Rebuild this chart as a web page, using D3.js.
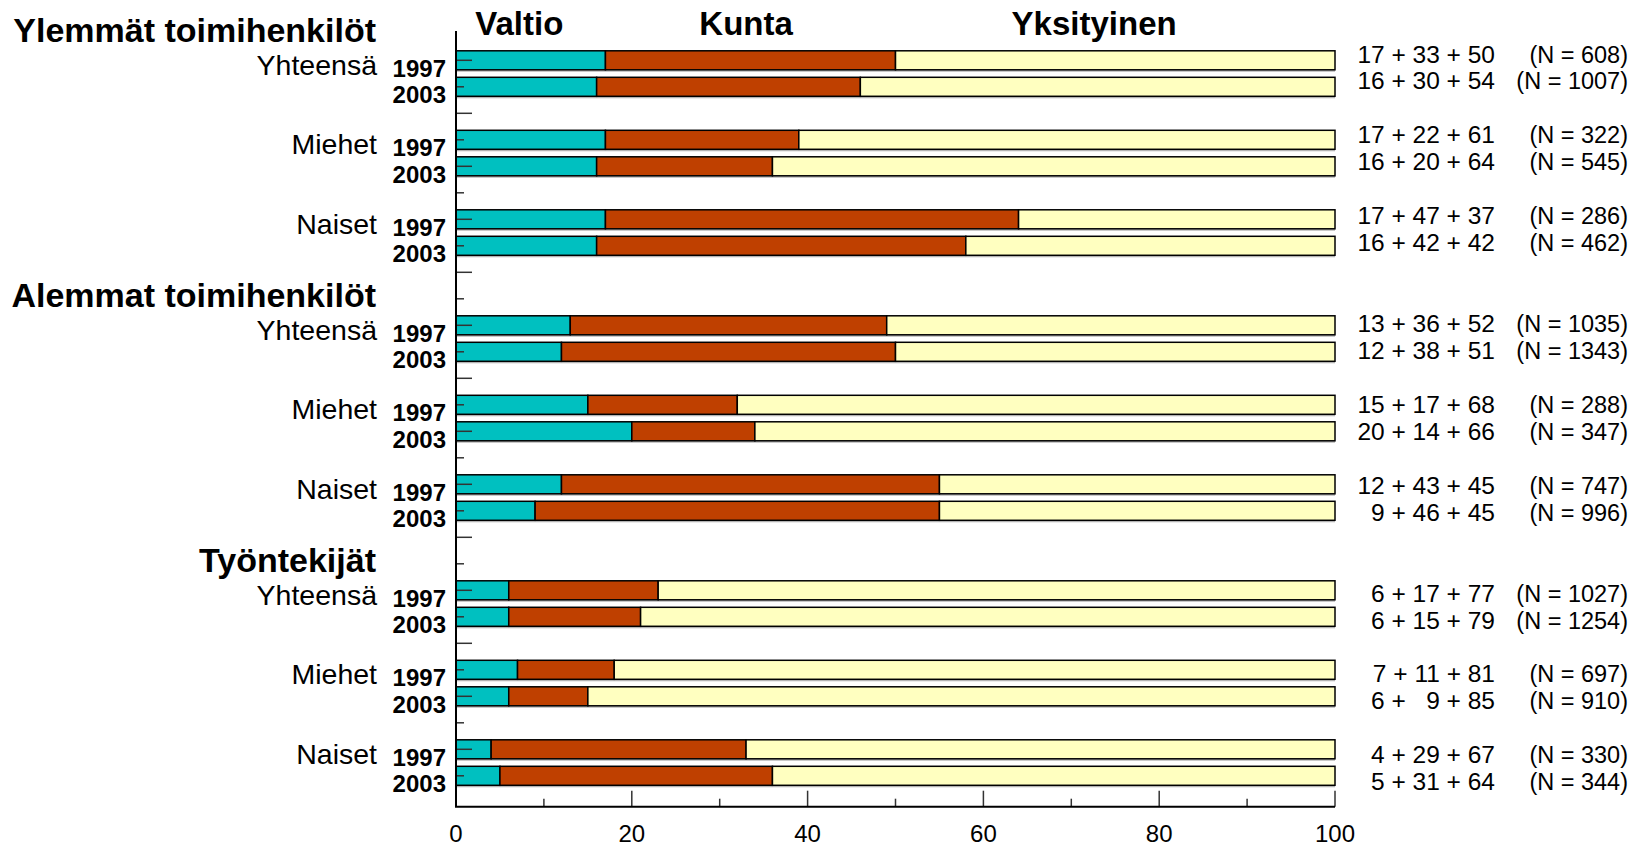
<!DOCTYPE html>
<html>
<head>
<meta charset="utf-8">
<script src="https://cdn.jsdelivr.net/npm/d3@7"></script>
<style>
  body { margin: 0; background: #fff; }
  svg { display: block; font-family: "Liberation Sans", Arial, sans-serif; }
</style>
</head>
<body>
<div id="chart"></div>
<script>

// data
var groups = ["Ylemmät toimihenkilöt", "Alemmat toimihenkilöt", "Työntekijät"]
var subgroups = ["Yhteensä", "Miehet", "Naiset"]
var years = ["1997", "2003"]
var sectors = ["Valtio", "Kunta", "Yksityinen"]

var valtio = [17, 16, 17, 16, 17, 16, 13, 12, 15, 20, 12, 9, 6, 6, 7, 6, 4, 5]
var kunta = [33, 30, 22, 20, 47, 42, 36, 38, 17, 14, 43, 46, 17, 15, 11, 9, 29, 31]
var yksityinen = [50, 54, 61, 64, 37, 42, 52, 51, 68, 66, 45, 45, 77, 79, 81, 85, 67, 64]
var nCounts = [608, 1007, 322, 545, 286, 462, 1035, 1343, 288, 347, 747, 996, 1027, 1254, 697, 910, 330, 344]
var xTicks = [0, 20, 40, 60, 80, 100]

var colors = ["#00c0c0", "#bf4000", "#ffffc0"]

var width = 1639, height = 847

var svg = d3.select("#chart").append("svg")
  .attr("width", width)
  .attr("height", height)

// row -> slot (two bars, one empty slot per subgroup, extra slot per group)
var rows = valtio.map(function (v, i) {
  var g = Math.floor(i / 6), s = Math.floor((i % 6) / 2), k = i % 2
  return { g: g, s: s, k: k, slot: 10 * g + 3 * s + k, v: v, ku: kunta[i], y: yksityinen[i], n: nCounts[i] }
})

var x = d3.scaleLinear().domain([0, 100]).range([456, 1335])
var y = d3.scaleLinear().domain([0, 27]).range([60.3, 775.8])
var yRight = d3.scaleLinear().domain([0, 27]).range([62.5, 790.3])
var axisBottom = 806.7
var barH = 19

// bars
var bar = svg.append("g").selectAll("g")
  .data(rows)
  .enter().append("g")

bar.append("rect")
  .attr("x", x(0))
  .attr("y", function (d) { return y(d.slot) - barH / 2 + 2 })
  .attr("width", x(100) - x(0))
  .attr("height", barH)
  .attr("fill", "#bcbcbc")

bar.each(function (d) {
  var segs = [[0, d.v], [d.v, d.v + d.ku], [d.v + d.ku, 100]]
  d3.select(this).selectAll("rect.seg")
    .data(segs)
    .enter().append("rect")
    .attr("class", "seg")
    .attr("x", function (s) { return x(s[0]) })
    .attr("y", y(d.slot) - barH / 2)
    .attr("width", function (s) { return x(s[1]) - x(s[0]) })
    .attr("height", barH)
    .attr("fill", function (s, j) { return colors[j] })
    .attr("stroke", "#000")
    .attr("stroke-width", 1.5)
})

// y ticks (every slot, long/short alternating)
svg.append("g").selectAll("line")
  .data(d3.range(28))
  .enter().append("line")
  .attr("x1", x(0))
  .attr("x2", function (i) { return x(0) + (i % 2 === 0 ? 16 : 8) })
  .attr("y1", function (i) { return y(i) })
  .attr("y2", function (i) { return y(i) })
  .attr("stroke", "#333")
  .attr("stroke-width", 1.5)

// x ticks
svg.append("g").selectAll("line")
  .data(d3.range(10, 101, 10))
  .enter().append("line")
  .attr("x1", function (v) { return x(v) })
  .attr("x2", function (v) { return x(v) })
  .attr("y1", axisBottom)
  .attr("y2", function (v) { return axisBottom - (v % 20 === 0 ? 16 : 8) })
  .attr("stroke", "#333")
  .attr("stroke-width", 1.5)

// axis lines
svg.append("path")
  .attr("d", "M" + x(0) + ",31V" + axisBottom + "H" + x(100))
  .attr("fill", "none")
  .attr("stroke", "#000")
  .attr("stroke-width", 2)

svg.append("g").selectAll("text")
  .data(xTicks)
  .enter().append("text")
  .attr("x", function (v) { return x(v) })
  .attr("y", 842)
  .attr("text-anchor", "middle")
  .attr("font-size", 24)
  .text(function (v) { return v })

// header labels
var headerAt = [7.2, 33, 72.6]
svg.append("g").selectAll("text")
  .data(sectors)
  .enter().append("text")
  .attr("x", function (d, i) { return x(headerAt[i]) })
  .attr("y", 35)
  .attr("text-anchor", "middle")
  .attr("font-size", 33)
  .attr("font-weight", "bold")
  .text(function (d) { return d })

// left labels
svg.append("g").selectAll("text")
  .data(groups)
  .enter().append("text")
  .attr("x", 376)
  .attr("y", function (d, g) { return y(10 * g) + 16.5 - 35 })
  .attr("text-anchor", "end")
  .attr("font-size", 34)
  .attr("font-weight", "bold")
  .text(function (d) { return d })

svg.append("g").selectAll("text")
  .data(rows.filter(function (d) { return d.k === 0 }))
  .enter().append("text")
  .attr("x", 377)
  .attr("y", function (d) { return y(d.slot) + 14.5 })
  .attr("text-anchor", "end")
  .attr("font-size", 28.5)
  .text(function (d) { return subgroups[d.s] })

svg.append("g").selectAll("text")
  .data(rows)
  .enter().append("text")
  .attr("x", 446)
  .attr("y", function (d) { return y(d.slot) + 16.5 })
  .attr("text-anchor", "end")
  .attr("font-size", 24)
  .attr("font-weight", "bold")
  .text(function (d) { return years[d.k] })

// right labels
function pad(v) { return v < 10 ? "\u2007" + v : "" + v }

svg.append("g").selectAll("text")
  .data(rows)
  .enter().append("text")
  .attr("x", 1495)
  .attr("y", function (d) { return yRight(d.slot) })
  .attr("text-anchor", "end")
  .attr("font-size", 24.5)
  .text(function (d) { return d.v + " + " + (d.v < 10 && d.ku < 10 ? pad(d.ku) : d.ku) + " + " + d.y })

svg.append("g").selectAll("text")
  .data(rows)
  .enter().append("text")
  .attr("x", 1628)
  .attr("y", function (d) { return yRight(d.slot) })
  .attr("text-anchor", "end")
  .attr("font-size", 23.5)
  .text(function (d) { return "(N = " + d.n + ")" })

</script>
</body>
</html>
